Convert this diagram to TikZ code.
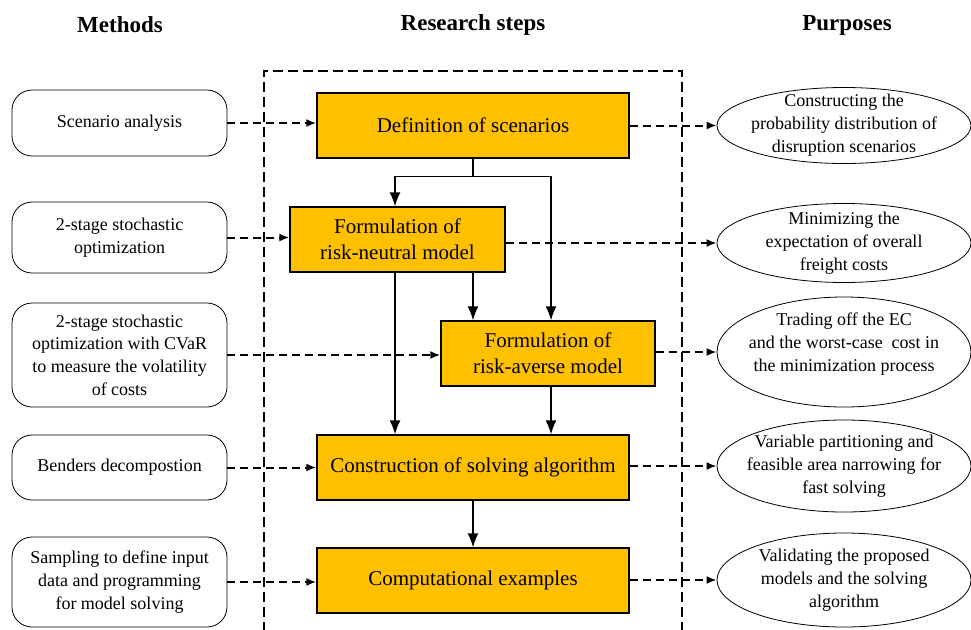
\documentclass[tikz,border=0pt]{standalone}
\usepackage{fontspec}
\setmainfont{Liberation Serif}
\usepackage{tikz}
\usetikzlibrary{arrows.meta}
\usetikzlibrary{shapes.geometric}
\definecolor{stepfill}{HTML}{FFC000}
\tikzstyle{heading} = [font=\fontsize{23}{28}\selectfont\bfseries]
\tikzstyle{method} = [draw, rounded corners=20pt, minimum width=215pt,
    align=center, font=\fontsize{18}{22.7}\selectfont, line width=0.8pt]
\tikzstyle{stepbox} = [draw, fill=stepfill, minimum height=65pt,
    align=center, font=\fontsize{21}{26}\selectfont, line width=1.3pt]
\tikzstyle{purpose} = [draw, ellipse, minimum width=254pt, inner sep=0pt,
    line width=0.8pt]
\tikzstyle{ptext} = [align=center, font=\fontsize{18}{23}\selectfont]
\tikzstyle{dasharrow} = [-{Latex[length=10pt,width=8pt]}, dash pattern=on 8pt off 5pt,
    line width=2pt]
\tikzstyle{flow} = [->, line width=1.5pt]
\tikzset{>={Latex[length=14pt,width=11pt]}}

\begin{document}
\begin{tikzpicture}
\begin{scope}[x=1pt,y=-1pt]
    \useasboundingbox (0,0) rectangle (971,629);
    %headings
    \node[heading] (hm) at (120,25) {Methods};
    \node[heading] (hr) at (473,25) {Research steps};
    \node[heading] (hp) at (847,25) {Purposes};
    %frame
    \draw[dash pattern=on 10pt off 5pt, line width=1.5pt]
        (264,632) -- (264,71) -- (682,71) -- (682,632);
    %methods
    \node[method, minimum height=66pt] (m1) at (119.5,123) {Scenario analysis};
    \node[method, minimum height=71pt] (m2) at (119.5,237.5) {2-stage stochastic\\optimization};
    \node[method, minimum height=104pt] (m3) at (119.5,355) {2-stage stochastic\\optimization with CVaR\\to measure the volatility\\of costs};
    \node[method, minimum height=65pt] (m4) at (119.5,467.5) {Benders decompostion};
    \node[method, minimum height=90pt] (m5) at (119.5,582) {Sampling to define input\\data and programming\\for model solving};
    %research steps
    \node[stepbox, minimum width=312pt] (s1) at (473,125.5) {Definition of scenarios};
    \node[stepbox, minimum width=215pt] (s2) at (397.5,239.5) {Formulation of\\risk-neutral model};
    \node[stepbox, minimum width=214pt] (s3) at (548,353.5) {Formulation of\\risk-averse model};
    \node[stepbox, minimum width=312pt] (s4) at (473,467.5) {Construction of solving algorithm};
    \node[stepbox, minimum width=312pt] (s5) at (473,580.5) {Computational examples};
    %purposes
    \node[purpose, minimum height=76pt, label={[ptext]center:Constructing the\\probability distribution of\\disruption scenarios}] (p1) at (844,125.5) {};
    \node[purpose, minimum height=79pt, label={[ptext]center:Minimizing the\\expectation of overall\\freight costs}] (p2) at (844,243) {};
    \node[purpose, minimum height=110pt, label={[ptext, yshift=8pt]center:Trading off the EC\\and the worst-case~ cost in\\the minimization process}] (p3) at (844,352) {};
    \node[purpose, minimum height=92pt, label={[ptext]center:Variable partitioning and\\feasible area narrowing for\\fast solving}] (p4) at (844,466) {};
    \node[purpose, minimum height=94pt, label={[ptext]center:Validating the proposed\\models and the solving\\algorithm}] (p5) at (844,580) {};
    %flow between steps
    \coordinate (split) at ([yshift=-18pt]s1.south);
    \draw[line width=1.5pt] (s1.south) -- (split);
    \draw[flow] (split) -| ([xshift=-2.5pt]s2.north);
    \draw[flow] (split) -| ([xshift=3pt]s3.north);
    \draw[flow] (s2.south -| s1.south) -- (s3.north -| s1.south);
    \draw[flow] ([xshift=-2.5pt]s2.south) -- ([xshift=-2.5pt]s2.south |- s4.north);
    \draw[flow] ([xshift=3pt]s3.south) -- ([xshift=3pt]s3.south |- s4.north);
    \draw[flow] (s4) -- (s5);
    %methods to steps
    \foreach \i in {1,...,5}
        \draw[dasharrow] (m\i.east) -- (m\i.east -| s\i.west);
    %steps to purposes
    \foreach \i in {1,...,5}
        \draw[dasharrow] (s\i.east |- p\i.west) -- (p\i.west);
\end{scope}
\end{tikzpicture}
\end{document}
